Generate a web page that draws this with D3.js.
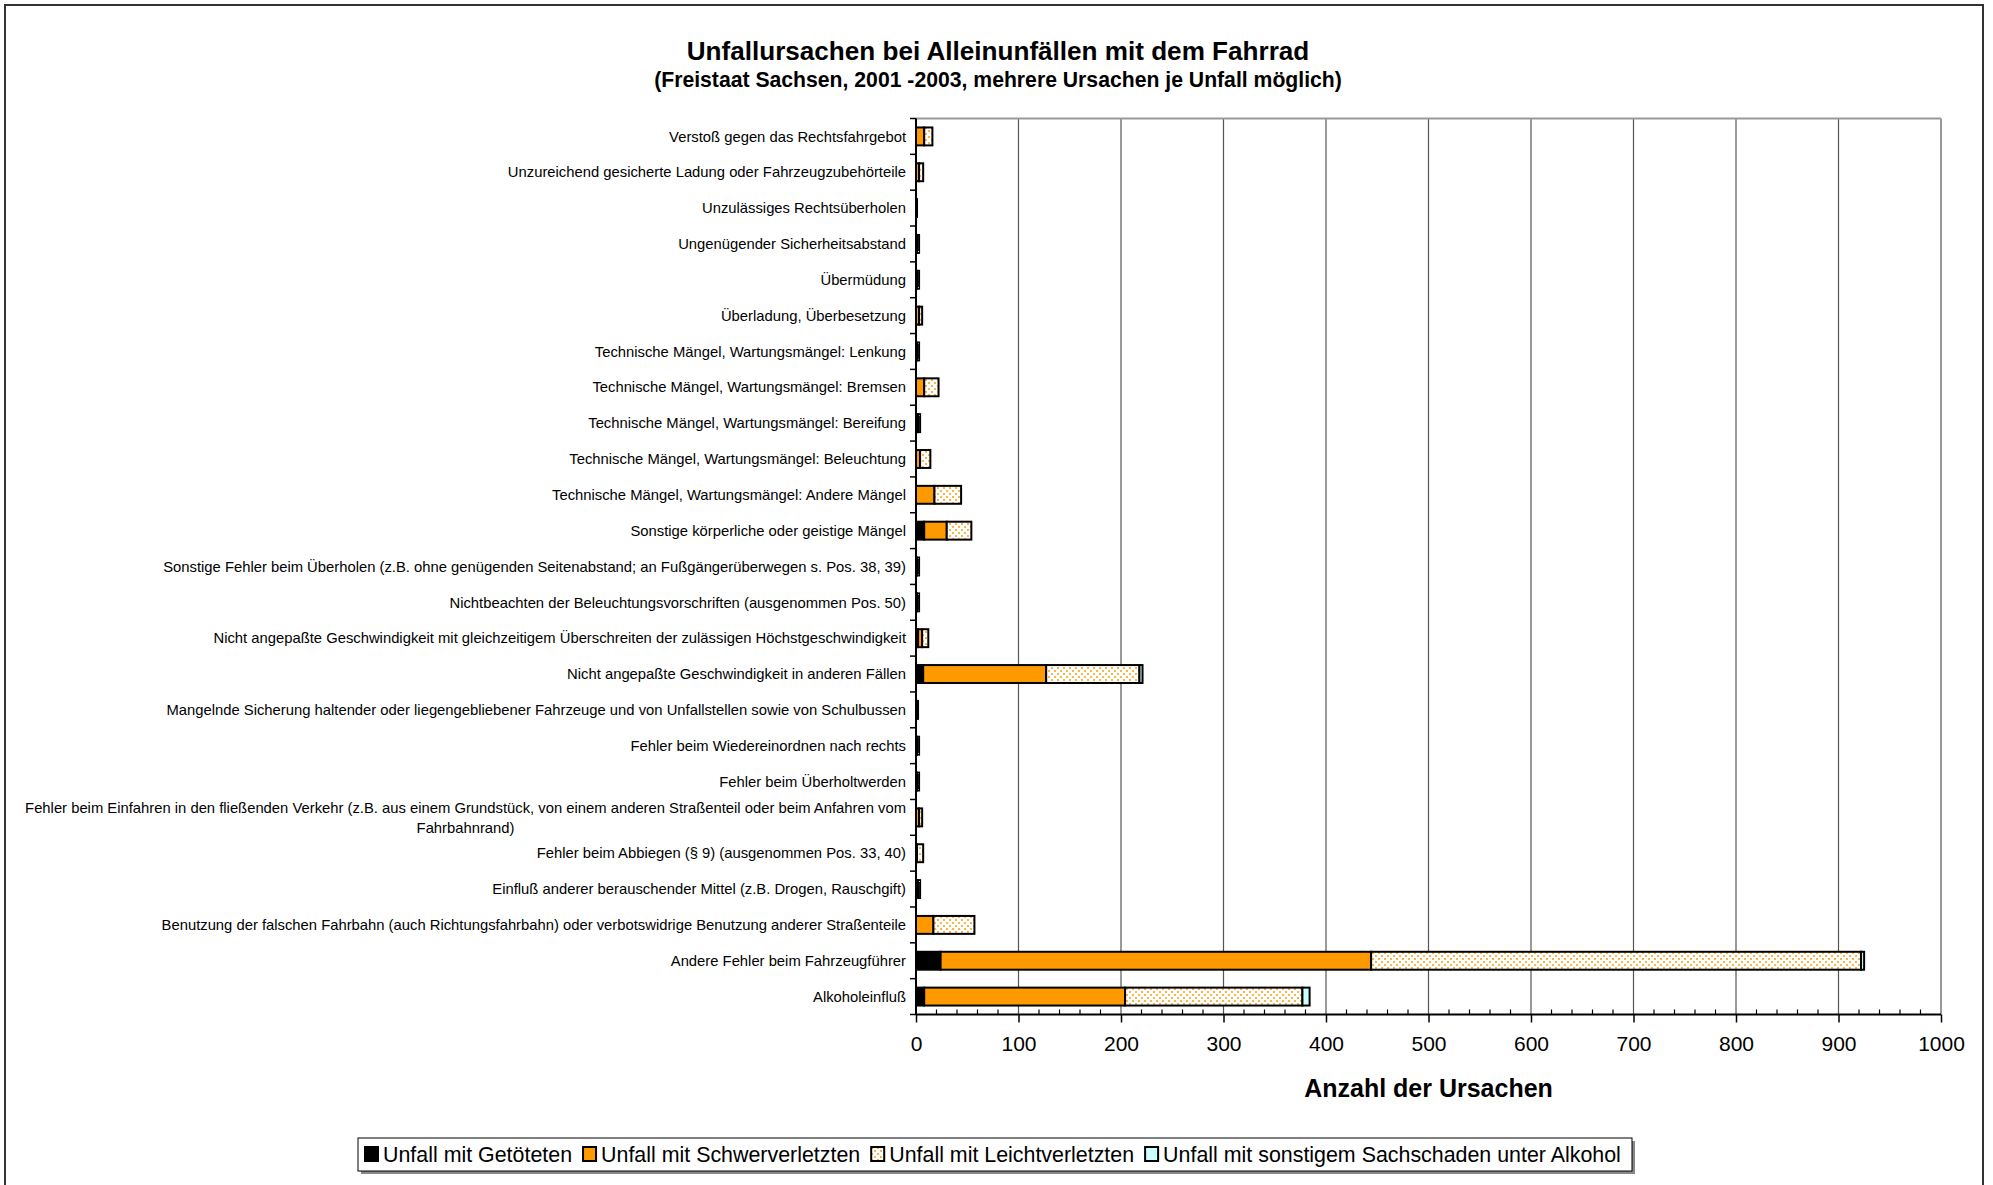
<!DOCTYPE html>
<html>
<head>
<meta charset="utf-8">
<script src="https://cdn.jsdelivr.net/npm/d3@7/dist/d3.min.js"></script>
<style>
html,body{margin:0;padding:0;background:#fff;}
svg{display:block;font-family:"Liberation Sans",Arial,sans-serif;}
</style>
</head>
<body>
<svg id="chart" width="1993" height="1185"></svg>
<script>
const categories = [
  "Verstoß gegen das Rechtsfahrgebot",
  "Unzureichend gesicherte Ladung oder Fahrzeugzubehörteile",
  "Unzulässiges Rechtsüberholen",
  "Ungenügender Sicherheitsabstand",
  "Übermüdung",
  "Überladung, Überbesetzung",
  "Technische Mängel, Wartungsmängel: Lenkung",
  "Technische Mängel, Wartungsmängel: Bremsen",
  "Technische Mängel, Wartungsmängel: Bereifung",
  "Technische Mängel, Wartungsmängel: Beleuchtung",
  "Technische Mängel, Wartungsmängel: Andere Mängel",
  "Sonstige körperliche oder geistige Mängel",
  "Sonstige Fehler beim Überholen (z.B. ohne genügenden Seitenabstand; an Fußgängerüberwegen s. Pos. 38, 39)",
  "Nichtbeachten der Beleuchtungsvorschriften (ausgenommen Pos. 50)",
  "Nicht angepaßte Geschwindigkeit mit gleichzeitigem Überschreiten der zulässigen Höchstgeschwindigkeit",
  "Nicht angepaßte Geschwindigkeit in anderen Fällen",
  "Mangelnde Sicherung haltender oder liegengebliebener Fahrzeuge und von Unfallstellen sowie von Schulbussen",
  "Fehler beim Wiedereinordnen nach rechts",
  "Fehler beim Überholtwerden",
  "Fehler beim Einfahren in den fließenden Verkehr (z.B. aus einem Grundstück, von einem anderen Straßenteil oder beim Anfahren vom|Fahrbahnrand)",
  "Fehler beim Abbiegen (§ 9) (ausgenommen Pos. 33, 40)",
  "Einfluß anderer berauschender Mittel (z.B. Drogen, Rauschgift)",
  "Benutzung der falschen Fahrbahn (auch Richtungsfahrbahn) oder verbotswidrige Benutzung anderer Straßenteile",
  "Andere Fehler beim Fahrzeugführer",
  "Alkoholeinfluß"
];
const getoetete    = [0,0,0,0,0,0,0,0,0,0,0,8,0,0,2,7,0,0,0,0,0,0,0,24,8];
const schwerverl   = [8,3,1,1,1,3,1,8,2,4,18,22,1,1,4,120,1,1,1,3,1,2,17,420,196];
const leichtverl   = [8,4,0,2,2,3,2,14,2,10,26,24,2,2,6,91,1,2,2,3,6,2,40,478,173];
const sachschaden  = [0,0,0,0,0,0,0,0,0,0,0,0,0,0,0,3,0,0,0,0,0,0,0,3,7];
const seriesNames  = ["Unfall mit Getöteten","Unfall mit Schwerverletzten","Unfall mit Leichtverletzten","Unfall mit sonstigem Sachschaden unter Alkohol"];
const xTicks = [0,100,200,300,400,500,600,700,800,900,1000];
const titleText = "Unfallursachen bei Alleinunfällen mit dem Fahrrad";
const subtitleText = "(Freistaat Sachsen, 2001 -2003, mehrere Ursachen je Unfall möglich)";
const xTitle = "Anzahl der Ursachen";

(function(){
const svg = d3.select("#chart");
const defs = svg.append("defs");
const pat = defs.append("pattern").attr("id","dots").attr("patternUnits","userSpaceOnUse")
  .attr("width",6).attr("height",6);
pat.append("rect").attr("width",6).attr("height",6).attr("fill","#fff");
pat.append("rect").attr("x",1).attr("y",1).attr("width",2).attr("height",2).attr("fill","#FDB447");
pat.append("rect").attr("x",4).attr("y",4).attr("width",2).attr("height",2).attr("fill","#FDB447");

const fills = ["#000000","#FF9900","url(#dots)","#CCFFFF"];

svg.append("rect").attr("x",5).attr("y",5).attr("width",1978).attr("height",1200)
  .attr("fill","none").attr("stroke","#333").attr("stroke-width",2);

const pL = 916, pR = 1941, pT = 118.5, pB = 1014.5;
const x = d3.scaleLinear().domain([0,1000]).range([pL,pR]);
const y = d3.scaleBand().domain(d3.range(categories.length)).range([pT,pB]).paddingInner(0.5).paddingOuter(0.25);

svg.append("g").selectAll("line").data(xTicks.filter(d=>d>0 && d<1000)).join("line")
  .attr("x1",d=>x(d)).attr("x2",d=>x(d)).attr("y1",pT).attr("y2",pB)
  .attr("stroke","#555").attr("stroke-width",1.2);
svg.append("line").attr("x1",pL).attr("x2",pR).attr("y1",pT).attr("y2",pT).attr("stroke","#999").attr("stroke-width",2);
svg.append("line").attr("x1",pR).attr("x2",pR).attr("y1",pT).attr("y2",pB).attr("stroke","#999").attr("stroke-width",2);

const data = categories.map((c,i)=>({i, vals:[getoetete[i],schwerverl[i],leichtverl[i],sachschaden[i]]}));
const stack = d3.stack().keys([0,1,2,3]).value((d,k)=>d.vals[k]);
const stacked = stack(data);
const gBars = svg.append("g");
stacked.forEach((layer,k)=>{
  gBars.append("g").selectAll("rect").data(layer.filter(d=>d[1]-d[0]>0)).join("rect")
    .attr("x",d=>x(d[0])).attr("width",d=>x(d[1])-x(d[0]))
    .attr("y",d=>y(d.data.i)).attr("height",y.bandwidth())
    .attr("fill",fills[k]).attr("stroke","#000").attr("stroke-width",2);
});

const step = (pB-pT)/categories.length;
svg.append("g").selectAll("line").data(d3.range(categories.length+1)).join("line")
  .attr("x1",pL-6).attr("x2",pL).attr("y1",d=>pT+d*step).attr("y2",d=>pT+d*step)
  .attr("stroke","#000").attr("stroke-width",1.5);

const labelFs = 14.8;
const gLab = svg.append("g").attr("font-size",labelFs).attr("fill","#000");
categories.forEach((c,i)=>{
  const cy = y(i)+y.bandwidth()/2;
  const parts = c.split("|");
  if(parts.length===1){
    gLab.append("text").attr("x",906).attr("y",cy).attr("dy","0.35em").attr("text-anchor","end").text(c);
  } else {
    const t1 = gLab.append("text").attr("x",906).attr("y",cy-10).attr("dy","0.35em").attr("text-anchor","end").text(parts[0]);
    const w = t1.node().getComputedTextLength();
    gLab.append("text").attr("x",906-w/2).attr("y",cy+10).attr("dy","0.35em").attr("text-anchor","middle").text(parts[1]);
  }
});

svg.append("line").attr("x1",pL).attr("x2",pL).attr("y1",pT).attr("y2",pB).attr("stroke","#000").attr("stroke-width",2);
svg.append("line").attr("x1",pL).attr("x2",pR).attr("y1",pB).attr("y2",pB).attr("stroke","#000").attr("stroke-width",2);
svg.append("g").selectAll("line").data(d3.range(0,1001,20).filter(d=>d%100!==0)).join("line")
  .attr("x1",d=>x(d)).attr("x2",d=>x(d)).attr("y1",pB-5).attr("y2",pB)
  .attr("stroke","#000").attr("stroke-width",1.2);
const xAxis = d3.axisBottom(x).tickValues(xTicks).tickFormat(d3.format("d")).tickSize(8).tickSizeOuter(0).tickPadding(14);
const gx = svg.append("g").attr("transform",`translate(0,${pB})`).call(xAxis);
gx.select(".domain").remove();
gx.selectAll(".tick line").attr("stroke","#000").attr("stroke-width",1.5);
gx.selectAll(".tick text").attr("font-size",21).attr("fill","#000").attr("font-family","Liberation Sans, Arial, sans-serif");

svg.append("text").attr("x",(pL+pR)/2).attr("y",1088).attr("dy","0.35em").attr("text-anchor","middle")
  .attr("font-size",25).attr("font-weight","bold").text(xTitle);

svg.append("text").attr("x",998).attr("y",51).attr("dy","0.35em").attr("text-anchor","middle")
  .attr("font-size",26.1).attr("font-weight","bold").text(titleText);
svg.append("text").attr("x",998).attr("y",80).attr("dy","0.35em").attr("text-anchor","middle")
  .attr("font-size",21.2).attr("font-weight","bold").text(subtitleText);

const lg = svg.append("g");
lg.append("rect").attr("x",361).attr("y",1141).attr("width",1274).attr("height",33).attr("fill","#888");
lg.append("rect").attr("x",358).attr("y",1138).attr("width",1274).attr("height",33).attr("fill","#fff").attr("stroke","#000").attr("stroke-width",1);
let lx = 365;
seriesNames.forEach((n,k)=>{
  lg.append("rect").attr("x",lx).attr("y",1147).attr("width",13).attr("height",14)
    .attr("fill",fills[k]).attr("stroke","#000").attr("stroke-width",2);
  const t = lg.append("text").attr("x",lx+18).attr("y",1155).attr("dy","0.35em").attr("font-size",21.4).text(n);
  lx += 18 + t.node().getComputedTextLength() + 11;
});
})();
</script>
</body>
</html>
